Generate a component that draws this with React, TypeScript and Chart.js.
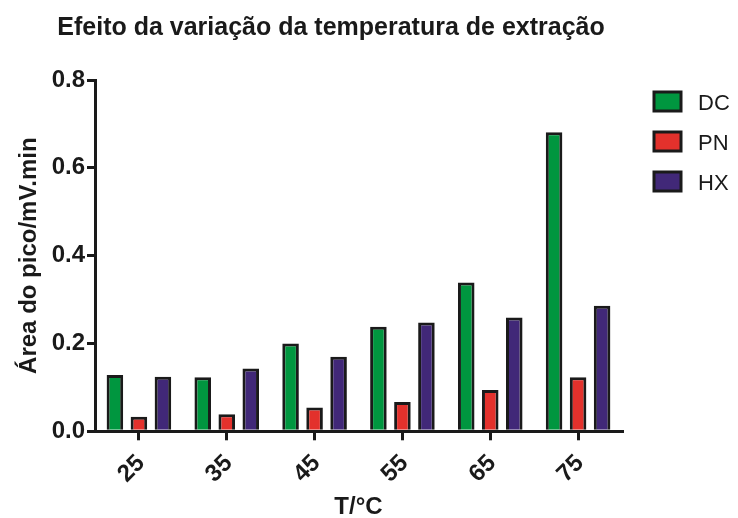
import React, { useEffect, useRef } from "react";
import { Chart, registerables } from "chart.js";

Chart.register(...registerables);

// ---- data ----
const chartTitle = "Efeito da variação da temperatura de extração";
const temperatures = ["25", "35", "45", "55", "65", "75"];
const seriesNames = ["DC", "PN", "HX"];
const dcValues = [0.128, 0.123, 0.2, 0.238, 0.339, 0.681];
const pnValues = [0.033, 0.039, 0.054, 0.067, 0.094, 0.123];
const hxValues = [0.124, 0.143, 0.17, 0.248, 0.259, 0.286];
const yMin = 0;
const yMax = 0.8;
const yStep = 0.2;
const xAxisTitle = "T/°C";
const yAxisTitle = "Área do pico/mV.min";
const seriesColors = ["#00963f", "#e3312c", "#412878"];

const FONT = "'Liberation Sans', Arial, Helvetica, sans-serif";
const INK = "#1a1a1a";

const decorPlugin = {
  id: "decor",
  afterDraw(chart: any) {
    const ctx = chart.ctx as CanvasRenderingContext2D;
    ctx.save();
    // title
    ctx.fillStyle = INK;
    ctx.font = `bold 25px ${FONT}`;
    ctx.textAlign = "center";
    ctx.textBaseline = "alphabetic";
    ctx.fillText(chartTitle, 331, 35);
    // legend
    ctx.font = `22px ${FONT}`;
    ctx.textAlign = "left";
    chart.data.datasets.forEach((ds: any, i: number) => {
      const y = 92 + 40 * i;
      ctx.fillStyle = ds.backgroundColor;
      ctx.fillRect(654, y, 27, 19);
      ctx.lineWidth = 3;
      ctx.strokeStyle = INK;
      ctx.strokeRect(654, y, 27, 19);
      ctx.fillStyle = INK;
      ctx.fillText(ds.label, 698, y + 17.5);
    });
    ctx.restore();
  },
};

export default function App() {
  const canvasRef = useRef<HTMLCanvasElement | null>(null);

  useEffect(() => {
    if (!canvasRef.current) return;
    const seriesValues = [dcValues, pnValues, hxValues];
    const chart = new Chart(canvasRef.current, {
      type: "bar",
      data: {
        labels: temperatures,
        datasets: seriesNames.map((name, i) => ({
          label: name,
          data: seriesValues[i],
          backgroundColor: seriesColors[i],
          borderColor: INK,
          borderWidth: 3,
          categoryPercentage: 0.82,
          barPercentage: 0.69,
        })),
      },
      options: {
        responsive: false,
        animation: false,
        devicePixelRatio: 1,
        layout: { padding: { top: 80, right: 116, left: 0, bottom: 0 } },
        plugins: {
          legend: { display: false },
          title: { display: false },
          tooltip: { enabled: false },
        },
        scales: {
          x: {
            type: "category",
            offset: true,
            afterFit: (scale: any) => {
              scale.height = 86.7;
            },
            grid: {
              display: true,
              drawOnChartArea: false,
              drawTicks: true,
              tickLength: 9,
              lineWidth: 3,
              color: INK,
              offset: false,
            },
            border: { display: true, color: INK, width: 3 },
            ticks: {
              autoSkip: false,
              minRotation: 45,
              maxRotation: 45,
              padding: 9,
              labelOffset: 2,
              color: INK,
              font: { family: FONT, size: 24, weight: "bold" },
            },
            title: {
              display: true,
              text: xAxisTitle,
              color: INK,
              font: { family: FONT, size: 24, weight: "bold", lineHeight: 0.9 },
              padding: { top: 0, bottom: 0 },
            },
          },
          y: {
            type: "linear",
            min: yMin,
            max: yMax,
            afterFit: (scale: any) => {
              scale.width = 95;
            },
            grid: {
              display: true,
              drawOnChartArea: false,
              drawTicks: true,
              tickLength: 8,
              lineWidth: 3,
              color: INK,
            },
            border: { display: true, color: INK, width: 3 },
            ticks: {
              stepSize: yStep,
              padding: 2,
              color: INK,
              font: { family: FONT, size: 24, weight: "bold" },
              callback: (v: any) => Number(v).toFixed(1),
            },
            title: {
              display: true,
              text: yAxisTitle,
              color: INK,
              font: { family: FONT, size: 24, weight: "bold" },
              padding: { top: 15, bottom: 0 },
            },
          },
        },
      },
      plugins: [decorPlugin],
    });
    return () => chart.destroy();
  }, []);

  return (
    <div style={{ position: "absolute", left: 0, top: 0, width: 738, height: 518 }}>
      <canvas ref={canvasRef} width={738} height={518} style={{ display: "block" }} />
    </div>
  );
}
